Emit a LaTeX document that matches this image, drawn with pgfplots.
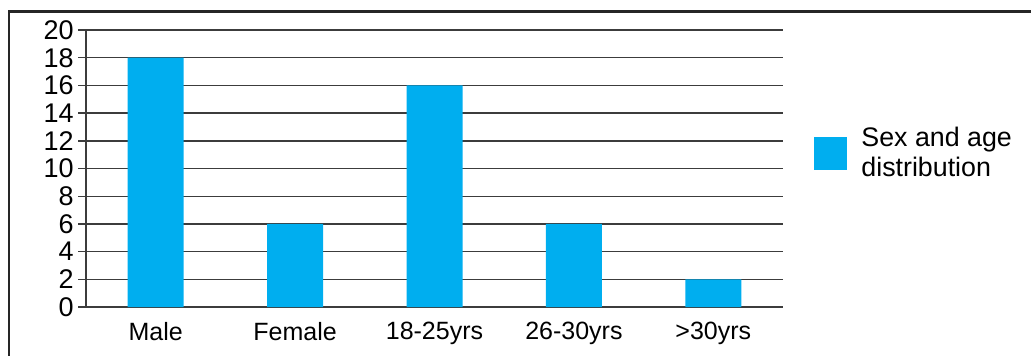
\documentclass[border=0pt]{standalone}
\usepackage{pgfplots}
\pgfplotsset{compat=1.18}
\usepackage{fontspec}
\setmainfont{Liberation Sans}
\definecolor{barblue}{RGB}{0,174,239}
\definecolor{gridgray}{RGB}{60,60,60}
\begin{document}
\begin{tikzpicture}
\useasboundingbox (0,0) rectangle (515.5pt,177.5pt);
% outer frame (left and top edges)
\draw[line width=1.3pt, black!85] (4.5pt,-2pt) -- (4.5pt,171.8pt) -- (520pt,171.8pt);
\begin{axis}[
  at={(43pt,24pt)}, anchor=south west,
  scale only axis, width=348.5pt, height=138.5pt,
  xmin=-0.5, xmax=4.5, ymin=0, ymax=20,
  axis x line*=bottom, axis y line*=left,
  axis line style={gridgray, line width=0.7pt, -},
  ytick={0,2,...,20},
  ymajorgrids, major grid style={gridgray, line width=0.7pt},
  tick style={gridgray, line width=0.7pt},
  major tick length=4pt,
  tick align=outside,
  xtick={0,1,2,3,4},
  xticklabels={Male,Female,18-25yrs,26-30yrs,>30yrs},
  x tick style={draw=none},
  extra x ticks={-0.5,0.5,1.5,2.5,3.5,4.5},
  extra x tick labels={},
  extra x tick style={major tick length=3pt, tick style={draw=gridgray}, grid=none},
  xticklabel style={font=\fontsize{12.5}{15}\selectfont},
  yticklabel style={font=\fontsize{13.5}{15}\selectfont, inner sep=2pt},
  /pgf/number format/assume math mode=true,
  ybar, bar width=28pt,
  legend style={draw=none, fill=none, at={(1.0445,0.554)}, anchor=west,
    inner sep=0pt, column sep=7pt, font=\fontsize{13.4}{15}\selectfont,
    nodes={align=left, inner sep=0pt}},
  legend cell align=left,
  legend image code/.code={\fill[barblue] (0pt,-8.25pt) rectangle (16.5pt,8.25pt);},
]
\addplot[fill=barblue, draw=none] coordinates {(0,18) (1,6) (2,16) (3,6) (4,2)};
\addlegendentry{Sex and age\\distribution}
\end{axis}
\end{tikzpicture}
\end{document}
